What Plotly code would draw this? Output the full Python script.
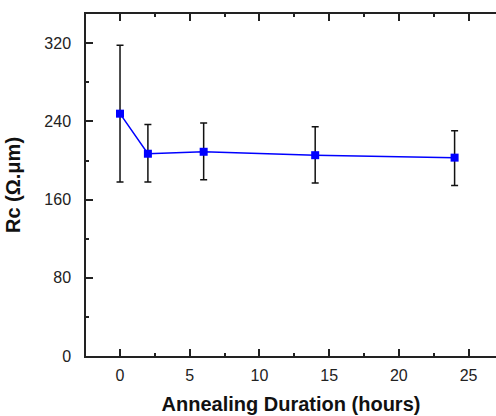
import plotly.graph_objects as go

hours = [0, 2, 6, 14, 24]
rc = [248, 207, 209, 205.5, 203]
err_plus = [70, 30, 29.5, 29, 27.5]
err_minus = [70, 29, 28.5, 28.5, 28.5]

x_ticks = [0, 5, 10, 15, 20, 25]
y_ticks = [0, 80, 160, 240, 320]

fig = go.Figure()
fig.add_trace(go.Scatter(
    x=hours, y=rc, mode="lines+markers",
    line=dict(color="#0000ff", width=1.5),
    marker=dict(symbol="square", size=8, color="#0000ff"),
    error_y=dict(type="data", symmetric=False, array=err_plus, arrayminus=err_minus,
                 color="#111111", thickness=1.5, width=3.5),
    showlegend=False,
))

axis_font = dict(family="Liberation Sans, Arial, sans-serif", size=16, color="#222222")
title_font = dict(family="Liberation Sans, Arial, sans-serif", size=20, color="#111111")

fig.update_layout(
    width=496, height=416,
    margin=dict(l=86, r=0, t=14, b=60, pad=0),
    paper_bgcolor="white", plot_bgcolor="white",
    xaxis=dict(
        range=[-2.44, 26.97], tickvals=x_ticks, ticks="inside", ticklen=7, tickwidth=1.5,
        tickcolor="#222222", showline=True, linecolor="#222222", linewidth=1.5,
        mirror="ticks", showgrid=False, zeroline=False, tickfont=axis_font,
        ticklabelstandoff=4, automargin=False,
        minor=dict(dtick=2.5, ticks="inside", ticklen=3, tickwidth=1.5, tickcolor="#222222", showgrid=False),
        title=dict(text="<b>Annealing Duration (hours)</b>", font=title_font, standoff=14),
    ),
    yaxis=dict(
        range=[0, 350], tickvals=y_ticks, ticks="inside", ticklen=7, tickwidth=1.5,
        tickcolor="#222222", showline=True, linecolor="#222222", linewidth=1.5,
        mirror=False, showgrid=False, zeroline=False, tickfont=axis_font,
        ticklabelstandoff=10, automargin=False,
        minor=dict(dtick=40, ticks="inside", ticklen=3, tickwidth=1.5, tickcolor="#222222", showgrid=False),
        title=dict(text="<b>Rc (Ω.μm)</b>", font=title_font, standoff=18),
    ),
)

fig.write_html(
    "out.html",
    config={"displayModeBar": False},
    post_script="document.body.style.margin='0';document.body.style.overflow='hidden';"
                "document.documentElement.style.overflow='hidden';",
)
